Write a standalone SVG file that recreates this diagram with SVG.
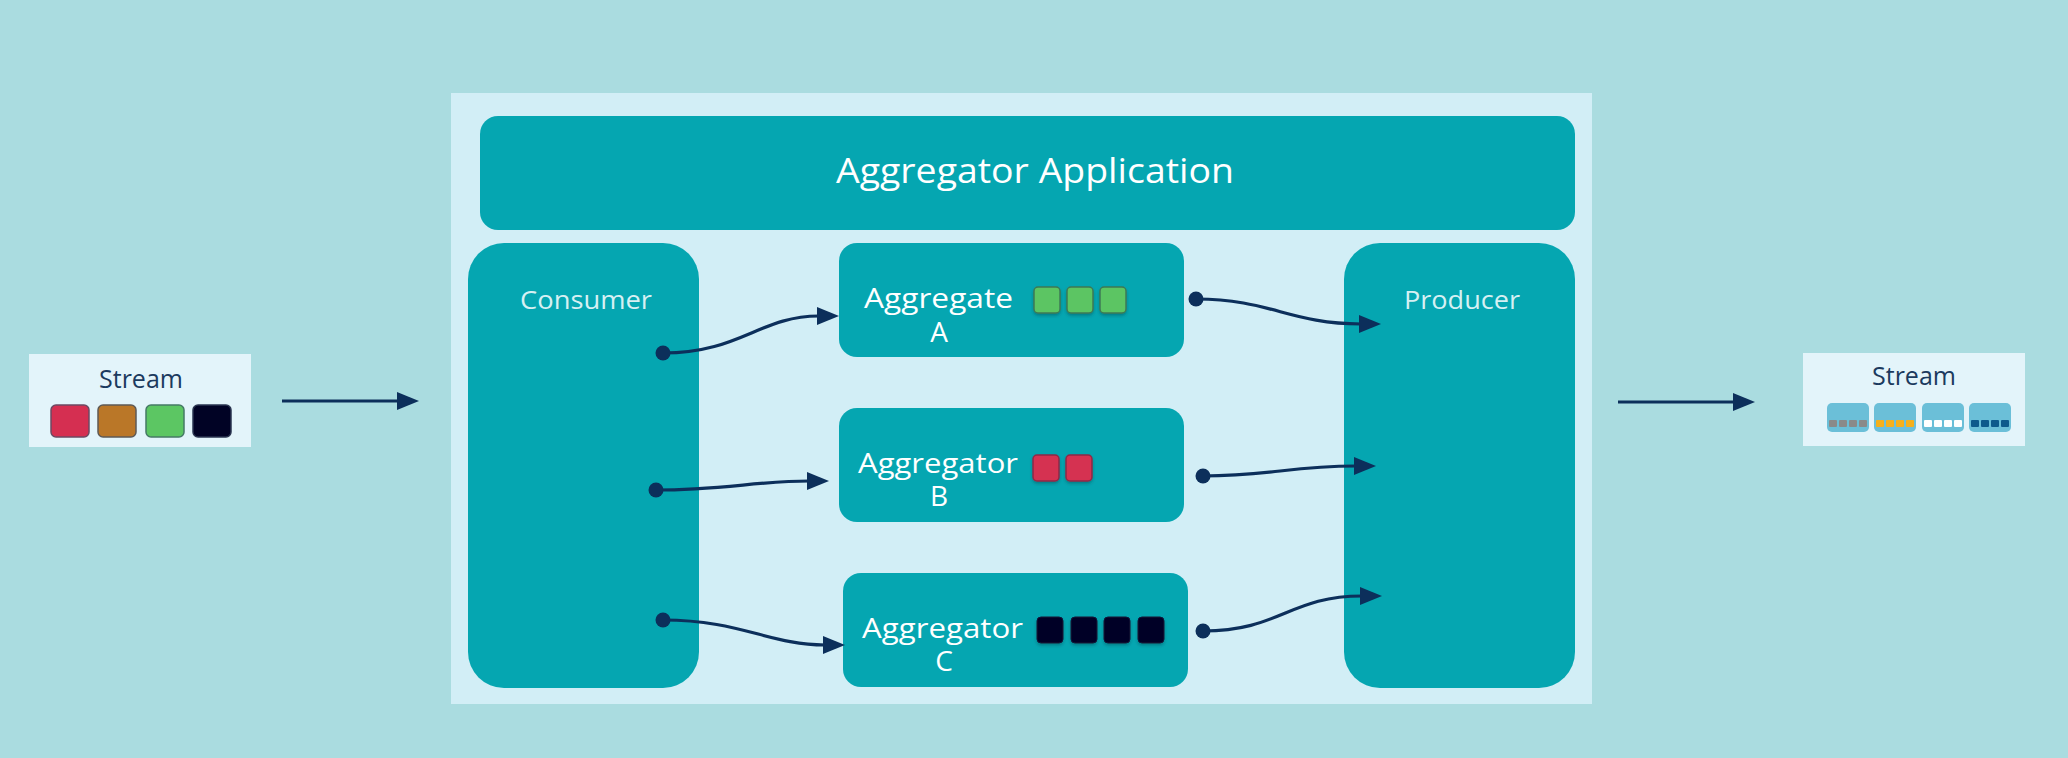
<svg xmlns="http://www.w3.org/2000/svg" width="2068" height="758" viewBox="0 0 2068 758">
<style>
.t{font-family:"Open Sans","Liberation Sans",sans-serif;}
.teal{fill:#05A6B1;}
.lbl{fill:#FFFFFF;font-size:28px;}
.sub{fill:#D6F0F3;font-size:25px;text-anchor:middle;}
.stream{fill:#1B3A5E;font-size:25px;text-anchor:middle;}
.conn{fill:none;stroke:#0C2F5B;stroke-width:3.2;}
.dot{fill:#0C2F5B;}
.g{fill:#5CC563;stroke:#3C7A56;stroke-width:1.5;}
.r{fill:#D53051;stroke:#8C2A48;stroke-width:1.5;}
.k{fill:#020525;stroke:#10183A;stroke-width:1;}
.sb{fill:#6BBFD8;}
</style>
<defs>
<marker id="ah" viewBox="0 0 22 18" refX="2" refY="9" markerWidth="22" markerHeight="18" markerUnits="userSpaceOnUse" orient="auto">
<path d="M0,0 L22,9 L0,18 z" fill="#0C2F5B"/>
</marker>
<filter id="sh" x="-30%" y="-30%" width="160%" height="170%">
<feDropShadow dx="0" dy="2" stdDeviation="1.5" flood-color="#00303a" flood-opacity="0.35"/>
</filter>
</defs>
<rect x="0" y="0" width="2068" height="758" fill="#AADCE0"/>

<g id="panel">
<rect x="451" y="93" width="1141" height="611" fill="#D2EEF6"/>
</g>

<g id="header">
<rect class="teal" x="480" y="116" width="1095" height="114" rx="18"/>
<text class="t" x="1035" y="183" fill="#FFFFFF" font-size="34" text-anchor="middle" textLength="398" lengthAdjust="spacingAndGlyphs">Aggregator Application</text>
</g>

<g id="consumer">
<rect class="teal" x="468" y="243" width="231" height="445" rx="36"/>
<text class="t sub" x="586" y="309" textLength="132" lengthAdjust="spacingAndGlyphs">Consumer</text>
</g>

<g id="producer">
<rect class="teal" x="1344" y="243" width="231" height="445" rx="36"/>
<text class="t sub" x="1462" y="309" textLength="116" lengthAdjust="spacingAndGlyphs">Producer</text>
</g>

<g id="aggA">
<rect class="teal" x="839" y="243" width="345" height="114" rx="18"/>
<text class="t lbl" x="864" y="308" textLength="149" lengthAdjust="spacingAndGlyphs">Aggregate</text>
<text class="t lbl" x="939" y="342" text-anchor="middle">A</text>
<g filter="url(#sh)">
<rect class="g" x="1034" y="287" width="26" height="26" rx="4"/>
<rect class="g" x="1067" y="287" width="26" height="26" rx="4"/>
<rect class="g" x="1100" y="287" width="26" height="26" rx="4"/>
</g>
</g>

<g id="aggB">
<rect class="teal" x="839" y="408" width="345" height="114" rx="18"/>
<text class="t lbl" x="858" y="473" textLength="160" lengthAdjust="spacingAndGlyphs">Aggregator</text>
<text class="t lbl" x="939" y="506" text-anchor="middle">B</text>
<g filter="url(#sh)">
<rect class="r" x="1033" y="455" width="26" height="26" rx="4"/>
<rect class="r" x="1066" y="455" width="26" height="26" rx="4"/>
</g>
</g>

<g id="aggC">
<rect class="teal" x="843" y="573" width="345" height="114" rx="18"/>
<text class="t lbl" x="862" y="638" textLength="161" lengthAdjust="spacingAndGlyphs">Aggregator</text>
<text class="t lbl" x="944" y="671" text-anchor="middle">C</text>
<g filter="url(#sh)">
<rect class="k" x="1037" y="617" width="26" height="26" rx="4"/>
<rect class="k" x="1071" y="617" width="26" height="26" rx="4"/>
<rect class="k" x="1104" y="617" width="26" height="26" rx="4"/>
<rect class="k" x="1138" y="617" width="26" height="26" rx="4"/>
</g>
</g>

<g id="streamIn">
<rect x="29" y="354" width="222" height="93" fill="#E3F4FA"/>
<text class="t stream" x="141" y="388">Stream</text>
<rect x="51" y="405" width="38" height="32" rx="5" fill="#D52F51" stroke="#6C4A63" stroke-width="1.5"/>
<rect x="98" y="405" width="38" height="32" rx="5" fill="#BA7728" stroke="#5E5A55" stroke-width="1.5"/>
<rect x="146" y="405" width="38" height="32" rx="5" fill="#5CC663" stroke="#457A66" stroke-width="1.5"/>
<rect x="193" y="405" width="38" height="32" rx="5" fill="#010325" stroke="#2A3550" stroke-width="1.5"/>
</g>

<g id="streamOut">
<rect x="1803" y="353" width="222" height="93" fill="#E3F4FA"/>
<text class="t stream" x="1914" y="385">Stream</text>
<rect class="sb" x="1827" y="403" width="42" height="29" rx="5"/>
<rect class="sb" x="1874" y="403" width="42" height="29" rx="5"/>
<rect class="sb" x="1922" y="403" width="42" height="29" rx="5"/>
<rect class="sb" x="1969" y="403" width="42" height="29" rx="5"/>
<g fill="#8A8A8A">
<rect x="1829" y="420" width="8" height="7" rx="1"/><rect x="1839" y="420" width="8" height="7" rx="1"/><rect x="1849" y="420" width="8" height="7" rx="1"/><rect x="1859" y="420" width="8" height="7" rx="1"/>
</g>
<g fill="#F4B01B">
<rect x="1876" y="420" width="8" height="7" rx="1"/><rect x="1886" y="420" width="8" height="7" rx="1"/><rect x="1896" y="420" width="8" height="7" rx="1"/><rect x="1906" y="420" width="8" height="7" rx="1"/>
</g>
<g fill="#FFFFFF">
<rect x="1924" y="420" width="8" height="7" rx="1"/><rect x="1934" y="420" width="8" height="7" rx="1"/><rect x="1944" y="420" width="8" height="7" rx="1"/><rect x="1954" y="420" width="8" height="7" rx="1"/>
</g>
<g fill="#0E5A8C">
<rect x="1971" y="420" width="8" height="7" rx="1"/><rect x="1981" y="420" width="8" height="7" rx="1"/><rect x="1991" y="420" width="8" height="7" rx="1"/><rect x="2001" y="420" width="8" height="7" rx="1"/>
</g>
</g>

<g id="connectors">
<path class="conn" d="M282,401 L399,401" marker-end="url(#ah)"/>
<path class="conn" d="M1618,402 L1735,402" marker-end="url(#ah)"/>
<path class="conn" d="M663,353 C740,353 760,316 819,316" marker-end="url(#ah)"/>
<path class="conn" d="M656,490 C720,490 760,481 809,481" marker-end="url(#ah)"/>
<path class="conn" d="M663,620 C740,620 770,645 825,645" marker-end="url(#ah)"/>
<path class="conn" d="M1196,299 C1270,299 1290,324 1361,324" marker-end="url(#ah)"/>
<path class="conn" d="M1203,476 C1270,476 1290,466 1356,466" marker-end="url(#ah)"/>
<path class="conn" d="M1203,631 C1280,631 1290,596 1362,596" marker-end="url(#ah)"/>
<circle class="dot" cx="663" cy="353" r="7.5"/>
<circle class="dot" cx="656" cy="490" r="7.5"/>
<circle class="dot" cx="663" cy="620" r="7.5"/>
<circle class="dot" cx="1196" cy="299" r="7.5"/>
<circle class="dot" cx="1203" cy="476" r="7.5"/>
<circle class="dot" cx="1203" cy="631" r="7.5"/>
</g>
</svg>
